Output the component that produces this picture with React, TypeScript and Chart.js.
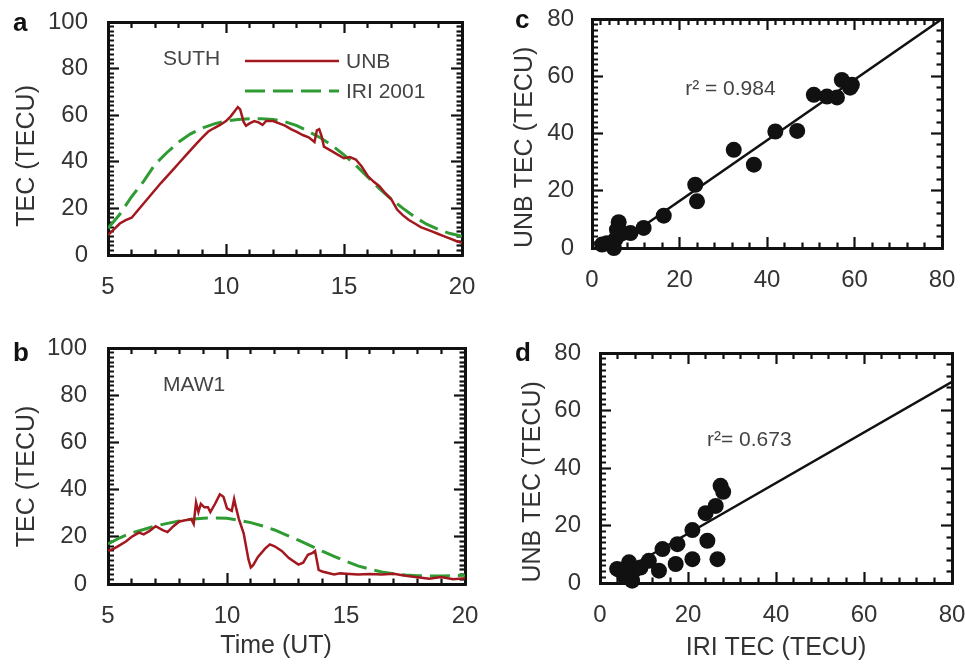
import React, { useEffect, useRef } from "react";
import { Chart, registerables } from "chart.js";

Chart.register(...registerables);

const FONT = "'Liberation Sans', Arial, Helvetica, sans-serif";
const UNB_COLOR = "#a3181f";
const IRI_COLOR = "#2f9b33";
const INK = "#333333";
const TEXT_INK = "#444444";
const FRAME = "#111111";

// ---------- Panel a (SUTH) ----------
const timeA = [5, 5.25, 5.5, 5.75, 6, 6.25, 6.5, 6.75, 7, 7.25, 7.5, 7.75, 8, 8.25, 8.5, 8.75, 9, 9.25, 9.5, 9.75, 10, 10.2, 10.35, 10.5, 10.6, 10.75, 10.85, 11, 11.2, 11.4, 11.55, 11.7, 12, 12.25, 12.5, 12.75, 13, 13.25, 13.5, 13.75, 13.85, 13.95, 14.05, 14.15, 14.5, 14.75, 15, 15.25, 15.5, 15.75, 16, 16.25, 16.5, 16.75, 17, 17.25, 17.5, 17.75, 18, 18.25, 18.5, 18.75, 19, 19.25, 19.5, 19.75, 20];
const unbA = [8.5, 11, 13.5, 15, 16, 19, 22, 25, 28, 31, 33.7, 36.5, 39.4, 42.2, 45, 47.8, 50.5, 53, 54.5, 55.8, 57.5, 59.5, 61.5, 63.5, 62.5, 57, 55.5, 56.5, 57.5, 56.8, 55.8, 57.5, 57.5, 56.5, 55.5, 54, 52.8, 51.5, 50.5, 48.5, 53.5, 54, 51, 46.5, 44.5, 43, 41.5, 42, 41, 38, 34, 31.5, 29.5, 26.5, 24, 19.5, 17, 15, 13.5, 12, 11, 10, 9, 8, 7, 6, 5.2];
const iriTime = [5, 5.5, 6, 6.5, 7, 7.5, 8, 8.5, 9, 9.5, 10, 10.5, 11, 11.5, 12, 12.5, 13, 13.5, 14, 14.5, 15, 15.5, 16, 16.5, 17, 17.5, 18, 18.5, 19, 19.5, 20];
const iriA = [11.5, 17.5, 25, 31.5, 39, 44, 48.5, 52, 54.5, 56.3, 57.5, 58.2, 58.5, 58.5, 58.2, 57.2, 55.5, 53, 50.3, 47, 43, 38.5, 33.5, 28.5, 24, 20, 16.3, 13.2, 11, 9.2, 8];

// ---------- Panel b (MAW1) ----------
const timeB = [5, 5.25, 5.5, 5.75, 6, 6.3, 6.5, 6.75, 7, 7.3, 7.5, 7.75, 8, 8.25, 8.5, 8.6, 8.7, 8.8, 8.9, 9.05, 9.2, 9.3, 9.5, 9.7, 9.85, 10, 10.2, 10.3, 10.4, 10.5, 10.7, 10.9, 11, 11.1, 11.3, 11.6, 11.8, 12, 12.3, 12.6, 13, 13.2, 13.4, 13.6, 13.7, 13.85, 14, 14.5, 14.75, 15, 15.5, 16, 16.5, 17, 17.5, 18, 18.5, 19, 19.5, 20];
const unbB = [14, 15, 16.5, 18, 20, 21.8, 21, 22.5, 24.5, 22.8, 22, 24.5, 26.5, 27, 27.5, 25.5, 34.5, 30.5, 34, 32.5, 32.5, 30.5, 34, 38, 37, 32, 31, 36, 31.5, 27.5, 21.5, 10.5, 7, 8, 11.5, 15, 16.8, 16, 14, 11, 8.2, 9, 12.4, 13.2, 14, 6, 5.3, 4, 4.5, 4.3, 4, 4.2, 4, 4.3, 3.5, 2.9, 2.2, 3, 2, 2.4];
const iriB = [17, 19.6, 21.7, 23.1, 24.6, 25.7, 26.7, 27.4, 27.9, 28, 27.9, 27, 26, 24.6, 22.9, 20.7, 18.6, 16.3, 13.9, 11.7, 9.6, 7.7, 6.3, 5.1, 4.3, 3.8, 3.5, 3.4, 3.4, 3.5, 3.7];

// ---------- Panel c (scatter, SUTH) ----------
const iriC = [50.7, 53.7, 56.0, 57.1, 59.4, 59.0, 41.9, 46.9, 32.4, 37.0, 23.6, 24.0, 16.4, 11.8, 8.8, 6.1, 6.9, 5.3, 3.4, 5.0, 2.3, 5.7];
const unbC = [53.5, 52.9, 52.6, 58.7, 57.0, 56.0, 40.7, 40.9, 34.3, 29.1, 22.1, 16.3, 11.3, 7.0, 5.2, 9.0, 5.2, 2.9, 1.7, 0.0, 1.2, 6.4];
const fitXC = [4.5, 80];
const fitYC = [0, 80];

// ---------- Panel d (scatter, MAW1) ----------
const iriD = [27.4, 28.0, 26.3, 24.0, 21.0, 24.4, 26.7, 21.0, 17.6, 17.2, 14.2, 13.4, 11.1, 9.2, 7.7, 7.3, 6.6, 4.7, 5.5, 3.9, 6.2];
const unbD = [33.8, 31.7, 26.8, 24.3, 18.4, 14.7, 8.3, 8.3, 13.5, 6.6, 11.8, 4.3, 7.7, 5.4, 4.3, 0.8, 7.2, 4.3, 2.5, 4.9, 4.9];
const fitXD = [5, 80];
const fitYD = [4, 70];

// ---------- Axis ranges / tick steps ----------
const timeRange = [5, 20];
const timeStep = 5;
const tecRange = [0, 100];
const tecStep = 20;
const scatRange = [0, 80];
const scatStep = 20;

const pts = (xs: number[], ys: number[]) => xs.map((x, i) => ({ x, y: ys[i] }));

const TICK_LEN = 11;
const DASH_FROM_FRAME = [7.5, 100]; // minor tick when the tick line starts at the frame
const DASH_TO_FRAME = [0, 5, 8, 100]; // minor tick when the tick line ends at the frame

function isMajorValue(v: number, min: number, major: number) {
  const k = (v - min) / major;
  return Math.abs(k - Math.round(k)) < 1e-6;
}

// Axis with inward ticks (negative tick length) and a thick frame border.
function frameAxis(cfg: any) {
  const minorDash = cfg.position === "bottom" || cfg.position === "right" ? DASH_FROM_FRAME : DASH_TO_FRAME;
  const horizontal = cfg.position === "bottom" || cfg.position === "top";
  return {
    type: "linear",
    axis: horizontal ? "x" : "y",
    position: cfg.position,
    min: cfg.range[0],
    max: cfg.range[1],
    weight: cfg.weight || 0,
    ticks: {
      display: !!cfg.labels,
      stepSize: cfg.minor,
      font: { family: FONT, size: 24 },
      color: INK,
      padding: (cfg.tickPad || 0) + TICK_LEN,
      autoSkip: false,
      maxRotation: 0,
      minRotation: 0,
      callback: (value: any) => (isMajorValue(Number(value), cfg.range[0], cfg.major) ? String(Number(value)) : ""),
    },
    grid: {
      display: true,
      drawOnChartArea: false,
      drawTicks: true,
      tickLength: -TICK_LEN,
      tickWidth: 2.2,
      tickColor: FRAME,
      tickBorderDash: (ctx: any) => (ctx.tick && isMajorValue(ctx.tick.value, cfg.range[0], cfg.major) ? [] : minorDash),
    },
    border: { display: true, width: 3, color: FRAME },
    title: cfg.title
      ? {
          display: true,
          text: cfg.title,
          font: { family: FONT, size: 25 },
          color: INK,
          padding: cfg.titlePad,
        }
      : { display: false },
    afterFit: (s: any) => {
      if (horizontal) s.height = cfg.size;
      else s.width = cfg.size;
      s.paddingLeft = 0;
      s.paddingRight = 0;
      s.paddingTop = 0;
      s.paddingBottom = 0;
    },
  };
}

function makeDecor(cfg: any) {
  return {
    id: "decor",
    afterDraw(chart: any) {
      const ctx = chart.ctx;
      const ca = chart.chartArea;
      const xs = chart.scales.x;
      const ys = chart.scales.y;
      ctx.save();
      (cfg.texts || []).forEach((t: any) => {
        ctx.font = `${t.size}px ${FONT}`;
        ctx.fillStyle = TEXT_INK;
        ctx.textAlign = "left";
        ctx.textBaseline = "middle";
        ctx.fillText(t.text, xs.getPixelForValue(t.x), ys.getPixelForValue(t.y));
      });
      if (cfg.legend) {
        const lg = cfg.legend;
        lg.items.forEach((dsIndex: number, i: number) => {
          const ds = chart.data.datasets[dsIndex];
          const x0 = ca.left + lg.dx;
          const y0 = ca.top + lg.rows[i];
          ctx.save();
          ctx.strokeStyle = ds.borderColor;
          ctx.lineWidth = ds.borderWidth;
          ctx.setLineDash(ds.borderDash || []);
          ctx.beginPath();
          ctx.moveTo(x0, y0);
          ctx.lineTo(x0 + lg.len, y0);
          ctx.stroke();
          ctx.restore();
          ctx.font = `${lg.size}px ${FONT}`;
          ctx.fillStyle = TEXT_INK;
          ctx.textAlign = "left";
          ctx.textBaseline = "middle";
          ctx.fillText(ds.label, x0 + lg.len + lg.gap, y0 + 1);
        });
      }
      if (cfg.letter) {
        ctx.font = `bold 26px ${FONT}`;
        ctx.fillStyle = FRAME;
        ctx.textAlign = "left";
        ctx.textBaseline = "alphabetic";
        ctx.fillText(cfg.letter.text, cfg.letter.x, cfg.letter.y);
      }
      ctx.restore();
    },
  };
}

function lineDataset(label: string, xs: number[], ys: number[], color: string, width: number, dash: number[]) {
  return {
    label,
    data: pts(xs, ys),
    showLine: true,
    borderColor: color,
    backgroundColor: color,
    borderWidth: width,
    borderDash: dash,
    pointRadius: 0,
    fill: false,
    tension: 0,
  };
}

function dotsDataset(label: string, xs: number[], ys: number[]) {
  return {
    label,
    data: pts(xs, ys),
    showLine: false,
    pointRadius: 8,
    pointBackgroundColor: FRAME,
    pointBorderWidth: 0,
    backgroundColor: FRAME,
    borderColor: FRAME,
    clip: false,
  };
}

function build(p: any) {
  return {
    type: "scatter",
    data: { datasets: p.datasets },
    options: {
      animation: false,
      responsive: false,
      maintainAspectRatio: false,
      events: [],
      layout: { padding: p.padding },
      plugins: { legend: { display: false }, tooltip: { enabled: false } },
      scales: {
        x: frameAxis({ ...p.x, position: "bottom", labels: true }),
        y: frameAxis({ ...p.y, position: "left", labels: true }),
        xTop: frameAxis({ range: p.x.range, major: p.x.major, minor: p.minorTop, position: "top", size: 0 }),
        yRight: frameAxis({ range: p.y.range, major: p.y.major, minor: p.minorRight, position: "right", size: 0 }),
      },
    },
    plugins: [makeDecor(p.decor)],
  };
}

const buildA = () =>
  build({
    datasets: [
      lineDataset("UNB", timeA, unbA, UNB_COLOR, 2.5, []),
      lineDataset("IRI 2001", iriTime, iriA, IRI_COLOR, 3, [20, 8]),
    ],
    padding: { left: 0, top: 22, right: 18, bottom: 5 },
    x: { range: timeRange, major: timeStep, minor: 1, tickPad: 18, size: 60 },
    y: { range: tecRange, major: tecStep, minor: 2, tickPad: 20, size: 108, title: "TEC (TECU)     ", titlePad: { top: 12.5, bottom: 0 } },
    minorTop: 1,
    minorRight: 2,
    decor: {
      texts: [{ text: "SUTH", x: 7.33, y: 84, size: 21 }],
      legend: { items: [0, 1], dx: 137, rows: [39, 69], len: 94, gap: 7, size: 21 },
      letter: { text: "a", x: 13, y: 31 },
    },
  });

const buildB = () =>
  build({
    datasets: [
      lineDataset("UNB", timeB, unbB, UNB_COLOR, 2.5, []),
      lineDataset("IRI 2001", iriTime, iriB, IRI_COLOR, 3, [20, 8]),
    ],
    padding: { left: 0, top: 28, right: 15, bottom: 0 },
    x: { range: timeRange, major: timeStep, minor: 1, tickPad: 18, size: 83, title: "Time (UT)   ", titlePad: { top: 0, bottom: 6 } },
    y: { range: tecRange, major: tecStep, minor: 2, tickPad: 21, size: 108, title: "TEC (TECU)   ", titlePad: { top: 12.5, bottom: 0 } },
    minorTop: 1,
    minorRight: 2,
    decor: {
      texts: [{ text: "MAW1", x: 7.31, y: 84.3, size: 21 }],
      letter: { text: "b", x: 13, y: 41 },
    },
  });

const buildC = () =>
  build({
    datasets: [dotsDataset("UNB vs IRI", iriC, unbC), lineDataset("Fit", fitXC, fitYC, FRAME, 2.5, [])],
    padding: { left: 0, top: 19, right: 23, bottom: 12 },
    x: { range: scatRange, major: scatStep, minor: 4, tickPad: 18, size: 60 },
    y: { range: scatRange, major: scatStep, minor: 2, tickPad: 18, size: 112, title: "UNB TEC (TECU)    ", titlePad: { top: 30, bottom: 0 } },
    minorTop: 2,
    minorRight: 4,
    decor: {
      texts: [{ text: "r² = 0.984", x: 21.3, y: 55.5, size: 21 }],
      letter: { text: "c", x: 35, y: 28 },
    },
  });

const buildD = () =>
  build({
    datasets: [dotsDataset("UNB vs IRI", iriD, unbD), lineDataset("Fit", fitXD, fitYD, FRAME, 2.5, [])],
    padding: { left: 0, top: 33, right: 13, bottom: 0 },
    x: { range: scatRange, major: scatStep, minor: 4, tickPad: 18, size: 84, title: "IRI TEC (TECU)", titlePad: { top: 0, bottom: 4 } },
    y: { range: scatRange, major: scatStep, minor: 2, tickPad: 19, size: 120, title: "UNB TEC (TECU)    ", titlePad: { top: 38, bottom: 0 } },
    minorTop: 4,
    minorRight: 4,
    decor: {
      texts: [{ text: "r²= 0.673", x: 24.3, y: 49.7, size: 21 }],
      letter: { text: "d", x: 35, y: 41 },
    },
  });

function Panel(props: { left: number; top: number; width: number; height: number; build: () => any }) {
  const ref = useRef<HTMLCanvasElement | null>(null);
  useEffect(() => {
    if (!ref.current) return;
    const chart = new Chart(ref.current, props.build());
    return () => chart.destroy();
  }, []);
  return (
    <div style={{ position: "absolute", left: props.left, top: props.top, width: props.width, height: props.height }}>
      <canvas ref={ref} width={props.width} height={props.height} style={{ display: "block" }} />
    </div>
  );
}

export default function App() {
  return (
    <div style={{ position: "absolute", left: 0, top: 0, width: 965, height: 667 }}>
      <Panel left={0} top={0} width={480} height={320} build={buildA} />
      <Panel left={0} top={320} width={480} height={347} build={buildB} />
      <Panel left={480} top={0} width={485} height={320} build={buildC} />
      <Panel left={480} top={320} width={485} height={347} build={buildD} />
    </div>
  );
}
